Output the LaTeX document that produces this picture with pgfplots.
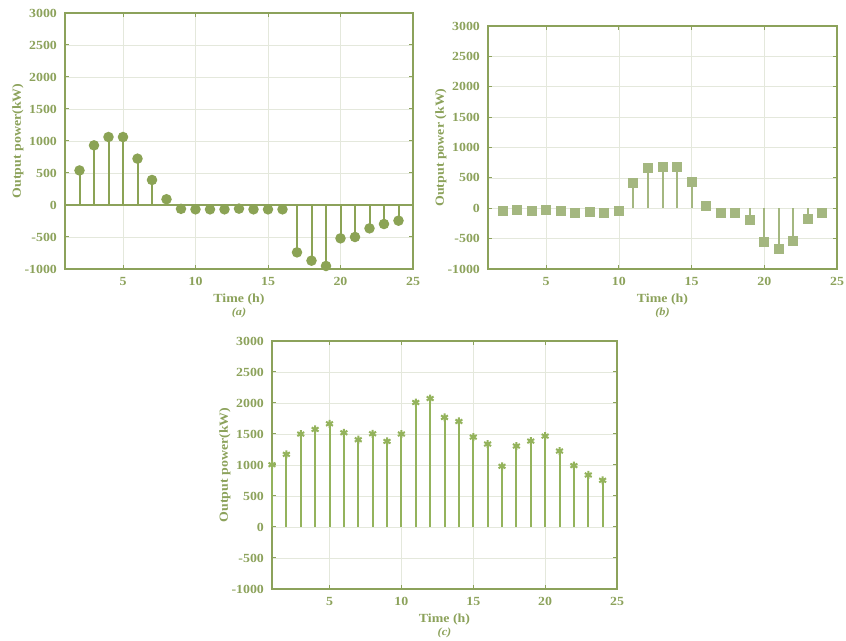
\documentclass[border=0pt]{standalone}
\usepackage{fontspec}
\setmainfont{Liberation Serif}[FakeStretch=1.12]
\usepackage{pgfplots}
\pgfplotsset{compat=1.18}
\definecolor{axc}{HTML}{8CA25B}
\definecolor{gridc}{HTML}{E4E8DC}
\definecolor{ca}{HTML}{8BA355}
\definecolor{cb}{HTML}{A4B780}
\definecolor{cc}{HTML}{94B35C}
\pgfplotsset{
  panel/.style={
    scale only axis, anchor=south west, clip=false,
    xmin=1, xmax=25, ymin=-1000, ymax=3000,
    xtick={5,10,15,20,25}, ytick={-1000,-500,...,3000},
    grid=major, grid style={line width=0.35pt, draw=gridc},
    axis line style={draw=axc, line width=0.75pt},
    tick style={draw=axc, line width=0.5pt}, tick align=inside, major tick length=2pt,
    ticklabel style={font=\bfseries\fontsize{6.2}{7}\selectfont, text=axc},
    xticklabel style={yshift=-0.5pt},
    yticklabel style={xshift=-0.5pt},
    /pgf/number format/assume math mode=true, /pgf/number format/1000 sep={},
    xlabel={Time (h)},
    label style={font=\bfseries\fontsize{6.2}{7}\selectfont, text=axc},
    xlabel style={yshift=2.5pt},
    ylabel style={at={(rel axis cs:0,0.5)}, anchor=center, yshift=23.5pt},
  }
}
\begin{document}
\begin{tikzpicture}
\useasboundingbox (0,0) rectangle (423pt,-320.5pt);
% (a)
\begin{axis}[panel, at={(32.5pt,-134.5pt)}, width=174pt, height=128pt,
  ylabel={Output power(kW)}]
\addplot[axc, line width=0.7pt] coordinates {(1,0) (25,0)};
\addplot[ycomb, draw=ca, line width=1pt, mark=*, mark size=2.1pt, mark options={fill=ca, draw=ca}]
coordinates {(2,540) (3,932) (4,1062) (5,1062) (6,724) (7,391) (8,90) (9,-60) (10,-68) (11,-68) (12,-68) (13,-57) (14,-68) (15,-68) (16,-68) (17,-740) (18,-870) (19,-953) (20,-521) (21,-500) (22,-365) (23,-297) (24,-245)};
\node[font=\bfseries\itshape\fontsize{5.5}{6}\selectfont, text=axc] at (rel axis cs:0.5,0) [yshift=-22pt] {(a)};
\end{axis}
% (b)
\begin{axis}[panel, at={(244pt,-134.5pt)}, width=174.5pt, height=121.5pt,
  ylabel={Output power (kW)}]
\addplot[ycomb, draw=cb, line width=1pt, mark=square*, mark size=2pt, mark options={fill=cb, draw=cb, rounded corners=0.6pt}]
coordinates {(2,-40) (3,-30) (4,-40) (5,-30) (6,-50) (7,-80) (8,-55) (9,-80) (10,-50) (11,420) (12,668) (13,679) (14,679) (15,430) (16,33) (17,-71) (18,-71) (19,-186) (20,-548) (21,-663) (22,-532) (23,-175) (24,-71)};
\node[font=\bfseries\itshape\fontsize{5.5}{6}\selectfont, text=axc] at (rel axis cs:0.5,0) [yshift=-22pt] {(b)};
\end{axis}
% (c)
\begin{axis}[panel, at={(136pt,-294.5pt)}, width=172.5pt, height=124pt,
  ylabel={Output power(kW)}]
\addplot[ycomb, draw=cc, line width=1pt, mark=asterisk, mark size=2pt, mark options={draw=cc, line width=1pt}]
coordinates {(1,1005) (2,1172) (3,1499) (4,1574) (5,1665) (6,1520) (7,1408) (8,1504) (9,1381) (10,1499) (11,2008) (12,2072) (13,1767) (14,1702) (15,1450) (16,1338) (17,979) (18,1306) (19,1386) (20,1466) (21,1225) (22,990) (23,839) (24,753)};
\node[font=\bfseries\itshape\fontsize{5.5}{6}\selectfont, text=axc] at (rel axis cs:0.5,0) [yshift=-22pt] {(c)};
\end{axis}
\end{tikzpicture}
\end{document}
